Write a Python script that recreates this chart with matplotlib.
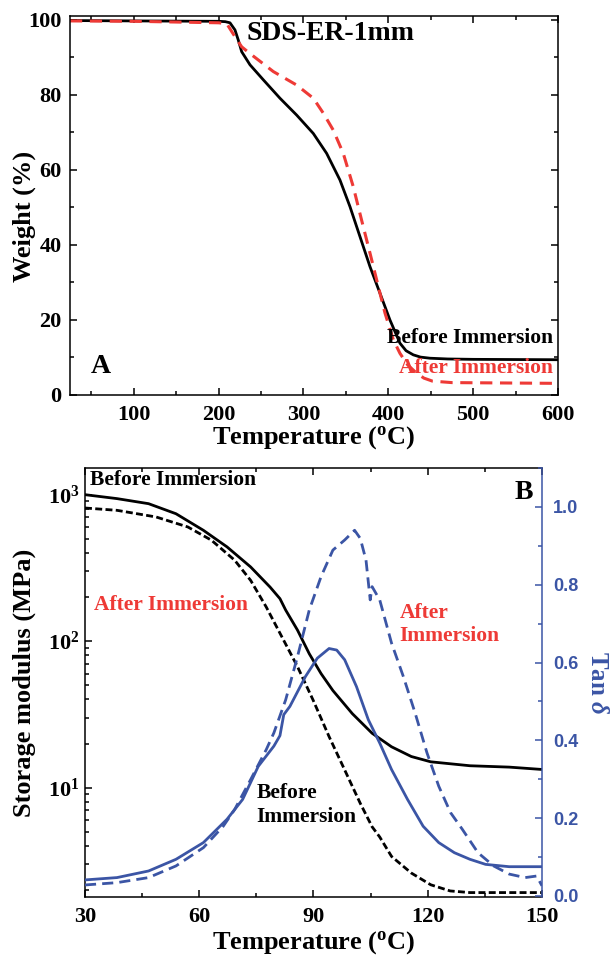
import matplotlib
matplotlib.use("Agg")
import matplotlib.pyplot as plt
from matplotlib.ticker import MultipleLocator, FixedLocator, NullFormatter
import numpy as np

plt.rcParams['font.family'] = ['Liberation Serif', 'DejaVu Serif']
plt.rcParams['font.weight'] = 'bold'
plt.rcParams['axes.labelweight'] = 'bold'
plt.rcParams['mathtext.fontset'] = 'custom'
plt.rcParams['mathtext.rm'] = 'Liberation Serif:bold'
plt.rcParams['mathtext.bf'] = 'Liberation Serif:bold'
plt.rcParams['mathtext.it'] = 'Liberation Serif:italic:bold'

RED = '#ee3a36'
BLUE = '#3b55a5'

# ---- Panel A: TGA data ----
tga_before_T = [25, 100, 200, 208, 213.5, 219.4, 223.3, 227.3, 237.1, 252.8, 272.4, 292.1, 311.7, 327.4, 343.1,
                354.9, 366.7, 378.5, 390.3, 402, 413.8, 421, 429.5, 438, 449.2, 470, 500, 600]
tga_before_W = [99.8, 99.7, 99.6, 99.5, 99.2, 97.3, 94.6, 91.5, 88, 84, 79.1, 74.6, 69.7, 64.4, 57.3,
                50.2, 42.2, 34.2, 27.1, 20, 13.8, 11.8, 10.7, 10.1, 9.8, 9.6, 9.5, 9.4]
tga_after_T = [25, 100, 200, 209.6, 219.4, 227.3, 237.1, 264.6, 292.1, 311.7, 323.5, 335.2, 347, 358.8, 368.6,
               378.5, 388.3, 396.2, 406, 413.8, 423, 433, 442, 452, 475, 600]
tga_after_W = [99.7, 99.6, 99.2, 99.0, 95.5, 92.8, 91.0, 86.2, 82.6, 79.1, 75.1, 70.6, 64.4, 55.5, 46.6,
               37.8, 28.9, 21.8, 14.7, 11.1, 8.0, 5.9, 4.5, 3.7, 3.3, 3.1]

# ---- Panel B: DMA data ----
dma_T_before = [30, 38.4, 46.7, 53.9, 61.1, 67.3, 73.5, 78.6, 81.2, 82.7, 85.8, 88.9, 92.0, 95.1, 100.2, 105.4,
                110.5, 115.7, 120.8, 131.1, 141.4, 150]
E_before = [1000, 940, 868, 741, 571, 440, 321, 234, 195, 163, 119, 82, 60, 46, 32, 23.5,
            19, 16.3, 15.0, 14.1, 13.8, 13.3]
dma_T_after = [30, 38.4, 48.7, 57.0, 63.2, 69.3, 73.5, 77.6, 81.7, 85.8, 89.9, 94.1, 98.2, 102.3, 105.4, 107.4,
               110.5, 115.7, 120.8, 125.9, 131.1, 150]
E_after = [811, 782, 704, 602, 489, 357, 260, 171, 107, 67, 39.6, 22.3, 13.2, 7.8, 5.4, 4.6,
           3.39, 2.61, 2.17, 1.97, 1.92, 1.92]

tan_T_before = [30, 38.4, 46.7, 53.9, 61.1, 67.3, 71.4, 75.5, 79.6, 81.2, 82.2, 83.8, 87.9, 91.0, 94.1, 96.1,
                98.2, 101.3, 104.4, 107.4, 110.5, 114.7, 118.8, 122.9, 127.0, 131.1, 135.2, 141.4, 150]
tan_before = [0.041, 0.047, 0.064, 0.094, 0.137, 0.197, 0.248, 0.333, 0.385, 0.412, 0.466, 0.487, 0.564, 0.611,
              0.636, 0.632, 0.607, 0.538, 0.453, 0.393, 0.325, 0.248, 0.179, 0.137, 0.111, 0.094, 0.081, 0.075, 0.075]
tan_T_after = [30, 38.4, 46.7, 53.9, 61.1, 66.3, 69.3, 73.5, 77.6, 79.6, 82.7, 85.8, 88.9, 92.0, 95.1, 98.2,
               100.8, 102.3, 103.8, 104.9, 105.4, 107.4, 110.5, 113.6, 116.7, 119.8, 122.9, 126.0, 129.1, 133.2,
               137.3, 141.4, 145.6, 148.6, 150]
tan_after = [0.028, 0.034, 0.047, 0.077, 0.124, 0.179, 0.222, 0.299, 0.376, 0.419, 0.504, 0.615, 0.735, 0.821,
             0.889, 0.915, 0.940, 0.919, 0.863, 0.761, 0.795, 0.761, 0.650, 0.564, 0.470, 0.368, 0.282, 0.214,
             0.171, 0.111, 0.077, 0.056, 0.047, 0.051, 0.026]

fig = plt.figure(figsize=(6.15, 9.55), dpi=100)

# ---------------- Panel A ----------------
axA = fig.add_axes([0.1138, 0.5864, 0.7935, 0.3968])
axA.plot(tga_before_T, tga_before_W, color='black', lw=2.0)
axA.plot(tga_after_T, tga_after_W, color=RED, lw=2.2, linestyle=(0, (4, 2.5)))
axA.set_xlim(25, 600)
axA.set_ylim(0, 101)
axA.xaxis.set_major_locator(FixedLocator([100, 200, 300, 400, 500, 600]))
axA.xaxis.set_minor_locator(MultipleLocator(50))
axA.yaxis.set_major_locator(MultipleLocator(20))
axA.yaxis.set_minor_locator(MultipleLocator(10))
axA.tick_params(which='both', direction='in', top=True, right=True, width=1.1, labelsize=16)
axA.tick_params(which='major', length=5)
axA.tick_params(which='minor', length=3)
axA.tick_params(axis='x', pad=7)
axA.tick_params(axis='y', pad=6)
axA.set_xlabel(r'Temperature ($\mathrm{^o}$C)', fontsize=19)
axA.set_ylabel('Weight (%)', fontsize=19)
axA.xaxis.set_label_coords(0.5, -0.078)
axA.yaxis.set_label_coords(-0.07, 0.47)
for s in axA.spines.values():
    s.set_linewidth(1.1)
axA.text(233, 96.4, 'SDS-ER-1mm', fontsize=20, va='center', ha='left')
axA.text(594, 15.3, 'Before Immersion', fontsize=15.5, va='center', ha='right')
axA.text(594, 7.3, 'After Immersion', fontsize=15.5, va='center', ha='right', color=RED)
axA.text(50, 7.7, 'A', fontsize=20, va='center', ha='left')

# ---------------- Panel B ----------------
axB = fig.add_axes([0.1382, 0.0607, 0.743, 0.4492])
axB.plot(dma_T_before, E_before, color='black', lw=2.0)
axB.plot(dma_T_after, E_after, color='black', lw=2.0, linestyle=(0, (2.5, 1.2)))
axB.set_yscale('log')
axB.set_xlim(30, 150)
axB.set_ylim(1.79, 1520)
axB.xaxis.set_major_locator(MultipleLocator(30))
axB.xaxis.set_minor_locator(MultipleLocator(15))
axB.yaxis.set_major_locator(FixedLocator([10, 100, 1000]))
axB.set_yticklabels([r'$\mathrm{10^1}$', r'$\mathrm{10^2}$', r'$\mathrm{10^3}$'])
axB.yaxis.set_minor_formatter(NullFormatter())
axB.tick_params(which='both', direction='in', top=True, width=1.1, labelsize=16)
axB.tick_params(which='major', length=5)
axB.tick_params(which='minor', length=3)
axB.tick_params(axis='x', pad=7)
axB.tick_params(axis='y', pad=4)
axB.spines['right'].set_visible(False)
for s in ['left', 'top', 'bottom']:
    axB.spines[s].set_linewidth(1.1)
axB.set_xlabel(r'Temperature ($\mathrm{^o}$C)', fontsize=19)
axB.set_ylabel('Storage modulus (MPa)', fontsize=19)
axB.xaxis.set_label_coords(0.5, -0.076)
axB.yaxis.set_label_coords(-0.107, 0.5)

axB2 = axB.twinx()
axB2.plot(tan_T_before, tan_before, color=BLUE, lw=2.0)
axB2.plot(tan_T_after, tan_after, color=BLUE, lw=2.0, linestyle=(0, (4, 2.2)))
axB2.set_ylim(-0.003, 1.1)
axB2.yaxis.set_major_locator(MultipleLocator(0.2))
axB2.yaxis.set_minor_locator(MultipleLocator(0.1))
axB2.tick_params(which='both', direction='in', colors=BLUE, width=1.1)
axB2.tick_params(which='major', length=5, pad=8)
axB2.tick_params(which='minor', length=3)
axB2.yaxis.set_major_formatter(plt.FuncFormatter(lambda v, p: f'{v:.1f}'))
for lab in axB2.get_yticklabels():
    lab.set_fontfamily('Liberation Sans')
    lab.set_fontweight('bold')
    lab.set_fontsize(13)
for s in axB2.spines.values():
    s.set_visible(False)
axB2.spines['right'].set_visible(True)
axB2.spines['right'].set_color(BLUE)
axB2.spines['right'].set_linewidth(1.1)
axB2.set_ylabel(r'Tan $\delta$', fontsize=18, color=BLUE, rotation=270, va='center')
axB2.yaxis.set_label_coords(1.121, 0.5)

axB.text(31.4, 1265, 'Before Immersion', fontsize=15.5, va='center', ha='left')
axB.text(32.3, 176, 'After Immersion', fontsize=15.5, va='center', ha='left', color=RED)
axB.text(75, 7.6, 'Before\nImmersion', fontsize=15.5, va='center', ha='left', linespacing=1.25)
axB.text(112.6, 130, 'After\nImmersion', fontsize=15.5, va='center', ha='left', color=RED, linespacing=1.25)
axB.text(147.8, 1043, 'B', fontsize=20, va='center', ha='right')

fig.savefig('out.png', dpi=100)
